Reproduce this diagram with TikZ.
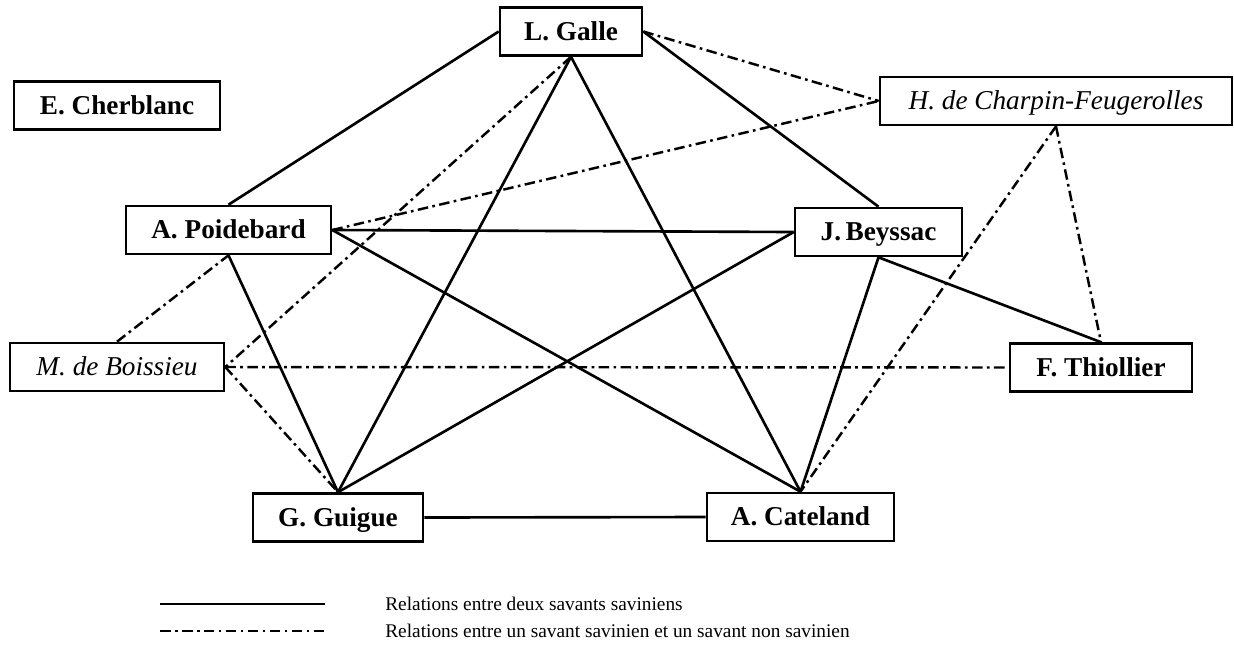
\documentclass[tikz,border=0pt]{standalone}
\usepackage{fontspec}
\setmainfont{Liberation Serif}
\tikzset{
  savant/.style={draw, line width=1.5pt, inner sep=0pt, minimum height=0.96cm, text height=10.2pt, text depth=0pt, font=\fontsize{15.5}{18}\selectfont\bfseries},
  autre/.style={savant, font=\fontsize{15.5}{18}\selectfont\itshape},
  lien/.style={line width=1.5pt},
  lienext/.style={line width=1.4pt, dash pattern=on 6pt off 2.5pt on 1.5pt off 2.5pt},
  legende/.style={anchor=west, inner sep=0pt, text height=7.3pt, text depth=0pt, font=\fontsize{11}{13}\selectfont}
}
\begin{document}
\begin{tikzpicture}[x=0.02cm, y=-0.02cm]
\useasboundingbox (0,0) rectangle (1234,657);
\node[savant, minimum width=2.84cm] (galle) at (571,31.5){L. Galle};
\node[savant, minimum width=4.12cm] (cherblanc) at (117,105.5){E. Cherblanc};
\node[autre, minimum width=7.04cm] (charpin) at (1056,101){H. de Charpin-Feugerolles};
\node[savant, minimum width=4.10cm] (poidebard) at (228.5,230){A. Poidebard};
\node[savant, minimum width=3.34cm] (beyssac) at (878.5,232){J.\,Beyssac};
\node[autre, minimum width=4.28cm] (boissieu) at (117,367){M. de Boissieu};
\node[savant, minimum width=3.64cm] (thiollier) at (1101,367.5){F. Thiollier};
\node[savant, minimum width=3.40cm] (guigue) at (338,517.5){G. Guigue};
\node[savant, minimum width=3.74cm] (cateland) at (800.5,517){A. Cateland};
% savants saviniens
\draw[lien] (galle.west) -- (poidebard.north);
\draw[lien] (galle.east) -- (beyssac.north);
\draw[lien] (galle.south) -- (guigue.north);
\draw[lien] (galle.south) -- (cateland.north);
\draw[lien] (poidebard.east) -- (beyssac.west);
\draw[lien] (poidebard.east) -- (cateland.north);
\draw[lien] (poidebard.south) -- (guigue.north);
\draw[lien] (guigue.north) -- (beyssac.west);
\draw[lien] (beyssac.south) -- (cateland.north);
\draw[lien] (beyssac.south) -- (thiollier.north);
\draw[lien] (guigue.east) -- (cateland.west);
% savants non saviniens
\draw[lienext] (galle.east) -- (charpin.west);
\draw[lienext] (galle.south) -- (boissieu.east);
\draw[lienext] (poidebard.east) -- (charpin.west);
\draw[lienext] (boissieu.north) -- (poidebard.south);
\draw[lienext] (boissieu.east) -- (thiollier.west);
\draw[lienext] (boissieu.east) -- (guigue.north);
\draw[lienext] (charpin.south) -- (cateland.north);
\draw[lienext] (charpin.south) -- (thiollier.north);
% legende
\coordinate (l1a) at (160,604);
\coordinate (l1b) at (325,604);
\coordinate (l2a) at (160,631);
\coordinate (l2b) at (325,631);
\draw[lien] (l1a) -- (l1b);
\draw[lienext] (l2a) -- (l2b);
\node[legende] (t1) at (385,604){Relations entre deux savants saviniens};
\node[legende] (t2) at (385,631){Relations entre un savant savinien et un savant non savinien};
\end{tikzpicture}
\end{document}
